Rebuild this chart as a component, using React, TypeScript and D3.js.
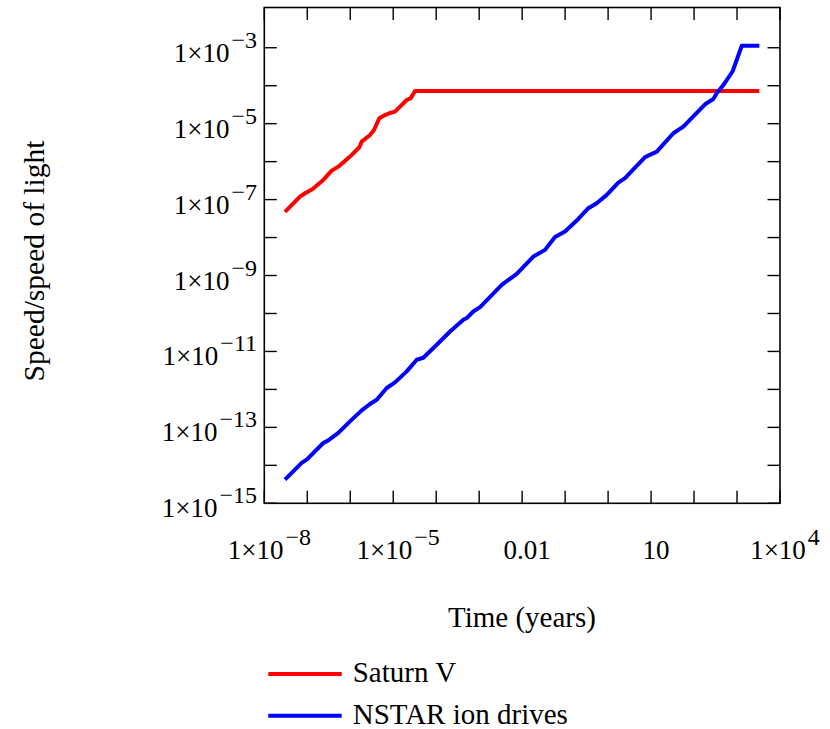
import React from "react";
import * as d3 from "d3";

// Time in years and speed as a fraction of c for each propulsion system
const saturnTime = [
  3.03e-8, 6.78e-8, 8.85e-8, 1.31e-7, 2.36e-7, 3.7e-7, 5.27e-7, 9.86e-7, 1.63e-6, 1.85e-6,
  2.88e-6, 3.57e-6, 4.74e-6, 5.87e-6, 8.11e-6, 1.1e-5, 1.44e-5, 2.06e-5, 2.55e-5, 3.21e-5, 3.31e3,
];
const saturnSpeed = [
  4.74e-8, 1.2e-7, 1.47e-7, 1.88e-7, 3.3e-7, 5.79e-7, 7.38e-7, 1.36e-6, 2.39e-6, 3.36e-6,
  5.05e-6, 6.82e-6, 1.39e-5, 1.6e-5, 1.88e-5, 2.07e-5, 2.8e-5, 4.21e-5, 4.66e-5, 7.2e-5, 7.2e-5,
];

const nstarTime = [
  3.03e-8, 7.41e-8, 9.7e-8, 2.36e-7, 3.08e-7, 5.27e-7, 9.86e-7, 1.85e-6, 2.88e-6, 4.13e-6,
  7.06e-6, 1.1e-5, 2.06e-5, 3.52e-5, 5.01e-5, 1.03e-4, 2.1e-4, 4.28e-4, 5.13e-4, 7.31e-4,
  1.05e-3, 3.35e-3, 5.71e-3, 7.48e-3, 1.82e-2, 3.41e-2, 5.82e-2, 9.95e-2, 0.186, 0.347,
  0.543, 0.929, 1.73, 2.48, 7.24, 13.6, 33.0, 56.4, 180, 281, 337, 481, 796, 1290, 3310,
];
const nstarSpeed = [
  4.21e-15, 1.16e-14, 1.41e-14, 3.88e-14, 4.55e-14, 7.13e-14, 1.44e-13, 2.8e-13, 4.13e-13, 5.36e-13,
  1.09e-12, 1.53e-12, 2.98e-12, 6.05e-12, 6.82e-12, 1.5e-11, 3.36e-11, 6.82e-11, 7.57e-11, 1.13e-10,
  1.47e-10, 5.69e-10, 8.85e-10, 1.11e-9, 3.16e-9, 4.74e-9, 1.03e-8, 1.44e-8, 2.8e-8, 5.94e-8,
  8.04e-8, 1.33e-7, 2.8e-7, 3.66e-7, 1.31e-6, 1.83e-6, 5.58e-6, 8.34e-6, 3.24e-5, 4.47e-5,
  6.31e-5, 1.04e-4, 2.44e-4, 1.13e-3, 1.13e-3,
];

const seriesNames = ["Saturn V", "NSTAR ion drives"];
const seriesColors = ["#ff0000", "#0000ff"];

// Axis ranges and tick marks
const xDomain = [1e-8, 1e4];
const yDomain = [1e-15, Math.pow(10, -1.94)];
const xTickExponents = d3.range(-8, 5);
const yTickExponents = d3.range(-15, -2);
const xLabels = [
  { exp: -8, base: "1×10", sup: "−8" },
  { exp: -5, base: "1×10", sup: "−5" },
  { exp: -2, base: "0.01", sup: "" },
  { exp: 1, base: "10", sup: "" },
  { exp: 4, base: "1×10", sup: "4" },
];
const yLabelExponents = [-3, -5, -7, -9, -11, -13, -15];

const W = 830;
const H = 729;
const left = 264.3;
const right = 780;
const top = 7.5;
const bottom = 503.3;
const tickLen = 12.5;
const font = "'Liberation Serif', 'Times New Roman', serif";
const baseSize = 27;
const supSize = 24;
const supRise = -14;

export default function App() {
  const x = d3.scaleLog().domain(xDomain).range([left, right]);
  const y = d3.scaleLog().domain(yDomain).range([bottom, top]);

  const line = d3
    .line<[number, number]>()
    .x((d) => x(d[0]))
    .y((d) => y(d[1]));

  const series = [
    saturnTime.map((t, i) => [t, saturnSpeed[i]] as [number, number]),
    nstarTime.map((t, i) => [t, nstarSpeed[i]] as [number, number]),
  ];

  return (
    <svg
      width={W}
      height={H}
      style={{ position: "absolute", left: 0, top: 0, background: "#fff" }}
      fontFamily={font}
    >
      <defs>
        <clipPath id="plot-area">
          <rect x={left} y={top} width={right - left} height={bottom - top} />
        </clipPath>
      </defs>

      {/* data lines */}
      <g clipPath="url(#plot-area)">
        {series.map((pts, i) => (
          <path
            key={i}
            d={line(pts) || ""}
            fill="none"
            stroke={seriesColors[i]}
            strokeWidth={4}
            strokeLinejoin="round"
          />
        ))}
      </g>

      {/* frame */}
      <rect
        x={left}
        y={top}
        width={right - left}
        height={bottom - top}
        fill="none"
        stroke="#000"
        strokeWidth={1.6}
      />

      {/* x ticks, bottom and top */}
      {xTickExponents.map((e) => {
        const px = x(Math.pow(10, e));
        return (
          <g key={"xt" + e} stroke="#000" strokeWidth={1.4}>
            <line x1={px} x2={px} y1={bottom} y2={bottom - tickLen} />
            <line x1={px} x2={px} y1={top} y2={top + tickLen} />
          </g>
        );
      })}

      {/* y ticks, left and right */}
      {yTickExponents.map((e) => {
        const py = y(Math.pow(10, e));
        return (
          <g key={"yt" + e} stroke="#000" strokeWidth={1.4}>
            <line x1={left} x2={left + tickLen} y1={py} y2={py} />
            <line x1={right} x2={right - tickLen} y1={py} y2={py} />
          </g>
        );
      })}

      {/* y tick labels */}
      {yLabelExponents.map((e) => {
        const py = y(Math.pow(10, e));
        return (
          <text key={"yl" + e} x={257} y={py + 14} textAnchor="end" fontSize={baseSize} fill="#000">
            <tspan>1×10</tspan>
            <tspan dx={2} dy={supRise} fontSize={supSize}>
              {"−" + Math.abs(e)}
            </tspan>
          </text>
        );
      })}

      {/* x tick labels */}
      {xLabels.map((l) => {
        const px = x(Math.pow(10, l.exp)) + 5;
        return (
          <text key={"xl" + l.exp} x={px} y={559} textAnchor="middle" fontSize={baseSize} fill="#000">
            <tspan>{l.base}</tspan>
            {l.sup && (
              <tspan dx={2} dy={supRise} fontSize={supSize}>
                {l.sup}
              </tspan>
            )}
          </text>
        );
      })}

      {/* axis titles */}
      <text x={522} y={627} textAnchor="middle" fontSize={29} fill="#000">
        Time (years)
      </text>
      <text
        transform={`translate(44, 261) rotate(-90)`}
        textAnchor="middle"
        fontSize={29.5}
        fill="#000"
      >
        Speed/speed of light
      </text>

      {/* legend */}
      {seriesNames.map((name, i) => {
        const ly = 674 + i * 41.7;
        return (
          <g key={name}>
            <line x1={268.3} x2={341.7} y1={ly} y2={ly} stroke={seriesColors[i]} strokeWidth={4} />
            <text x={352.7} y={ly + 8} fontSize={29} fill="#000">
              {name}
            </text>
          </g>
        );
      })}
    </svg>
  );
}
